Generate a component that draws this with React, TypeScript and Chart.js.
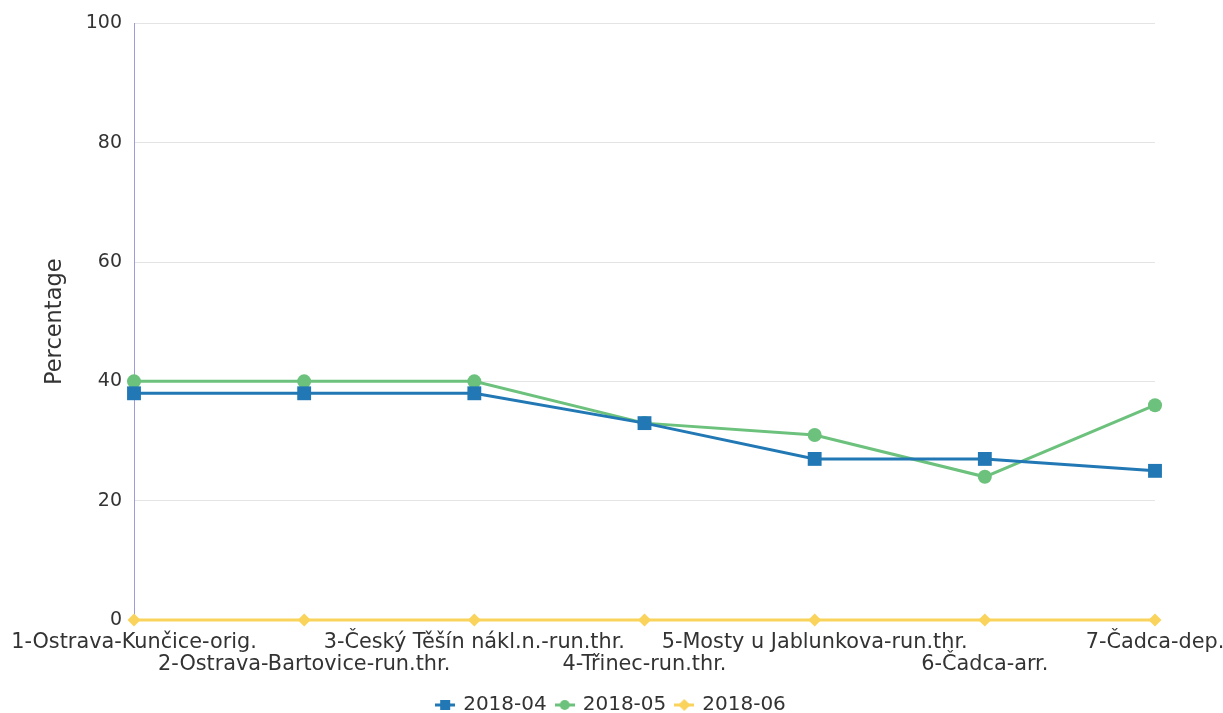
import React, { useEffect, useRef } from "react";
import { Chart, registerables } from "chart.js";

Chart.register(...registerables);

const categories = [
  "1-Ostrava-Kunčice-orig.",
  "2-Ostrava-Bartovice-run.thr.",
  "3-Český Těšín nákl.n.-run.thr.",
  "4-Třinec-run.thr.",
  "5-Mosty u Jablunkova-run.thr.",
  "6-Čadca-arr.",
  "7-Čadca-dep.",
];
const seriesNames = ["2018-04", "2018-05", "2018-06"];
const values201804 = [38, 38, 38, 33, 27, 27, 25];
const values201805 = [40, 40, 40, 33, 31, 24, 36];
const values201806 = [0, 0, 0, 0, 0, 0, 0];
const yTicks = [0, 20, 40, 60, 80, 100];

const COLORS = ["#2178b4", "#6cc27c", "#f9d35b"];
const STYLES = ["rect", "circle", "rectRot"];
const FONT = "'DejaVu Sans', sans-serif";

function makeLegendIcon(color: string, style: string) {
  const c = document.createElement("canvas");
  c.width = 20;
  c.height = 14;
  const ctx = c.getContext("2d")!;
  ctx.strokeStyle = color;
  ctx.fillStyle = color;
  ctx.lineWidth = 3;
  ctx.beginPath();
  ctx.moveTo(0, 7);
  ctx.lineTo(20, 7);
  ctx.stroke();
  ctx.beginPath();
  if (style === "rect") {
    ctx.rect(5, 2, 10, 10);
  } else if (style === "circle") {
    ctx.arc(10, 7, 5, 0, Math.PI * 2);
  } else {
    ctx.moveTo(10, 1);
    ctx.lineTo(16, 7);
    ctx.lineTo(10, 13);
    ctx.lineTo(4, 7);
    ctx.closePath();
  }
  ctx.fill();
  return c;
}

export default function App() {
  const ref = useRef<HTMLCanvasElement | null>(null);

  useEffect(() => {
    document.body.style.margin = "0";
    document.documentElement.style.overflow = "hidden";
    document.body.style.overflow = "hidden";
    if (!ref.current) return;

    const labels = categories.map((c, i) => (i % 2 === 0 ? [c, ""] : ["", c]));
    const seriesValues = [values201804, values201805, values201806];
    const icons = seriesNames.map((_, i) => makeLegendIcon(COLORS[i], STYLES[i]));

    const chart = new Chart(ref.current, {
      type: "line",
      data: {
        labels,
        datasets: seriesNames.map((name, i) => ({
          label: name,
          data: seriesValues[i],
          borderColor: COLORS[i],
          backgroundColor: COLORS[i],
          borderWidth: 3,
          pointStyle: STYLES[i] as any,
          pointRadius: i === 0 ? 9.8 : i === 1 ? 7 : 6.5,
          pointBorderWidth: 0,
          pointBackgroundColor: COLORS[i],
          tension: 0,
          fill: false,
          clip: false as any,
        })),
      },
      options: {
        animation: false,
        responsive: true,
        maintainAspectRatio: false,
        layout: { padding: { top: 21, left: 0, right: 0, bottom: 0 } },
        plugins: {
          tooltip: { enabled: false },
          legend: {
            position: "bottom",
            labels: {
              usePointStyle: true,
              boxWidth: 16,
              padding: 10,
              color: "#333333",
              font: { family: FONT, size: 20 },
              generateLabels: (ch: any) =>
                ch.data.datasets.map((ds: any, i: number) => ({
                  text: ds.label,
                  fillStyle: COLORS[i],
                  strokeStyle: COLORS[i],
                  lineWidth: 0,
                  pointStyle: icons[i],
                  hidden: false,
                  datasetIndex: i,
                  fontColor: "#333333",
                })),
            },
          },
        },
        scales: {
          x: {
            type: "category",
            offset: false,
            grid: { display: false, drawTicks: false },
            border: { display: false },
            ticks: {
              autoSkip: false,
              maxRotation: 0,
              minRotation: 0,
              padding: 12,
              color: "#333333",
              font: { family: FONT, size: 20.8, lineHeight: 1.06 },
            },
            afterFit: (scale: any) => {
              scale.height = 65;
              scale.paddingLeft = 0;
              scale.paddingRight = 68;
            },
          },
          y: {
            min: 0,
            max: 100,
            grid: { color: "#e4e4e4", lineWidth: 1, drawTicks: false },
            border: { display: true, color: "#9c9cd6", width: 1 },
            ticks: {
              stepSize: 20,
              padding: 12,
              color: "#333333",
              font: { family: FONT, size: 19 },
              callback: (v: any) => (yTicks.includes(Number(v)) ? String(v) : ""),
            },
            title: {
              display: true,
              text: "Percentage",
              color: "#333333",
              font: { family: FONT, size: 22.5 },
              padding: { top: 42, bottom: 0 },
            },
            afterFit: (scale: any) => {
              scale.width = 134;
            },
          },
        },
      },
    });

    return () => chart.destroy();
  }, []);

  return (
    <div style={{ width: 1223, height: 725, position: "relative" }}>
      <canvas ref={ref} />
    </div>
  );
}
